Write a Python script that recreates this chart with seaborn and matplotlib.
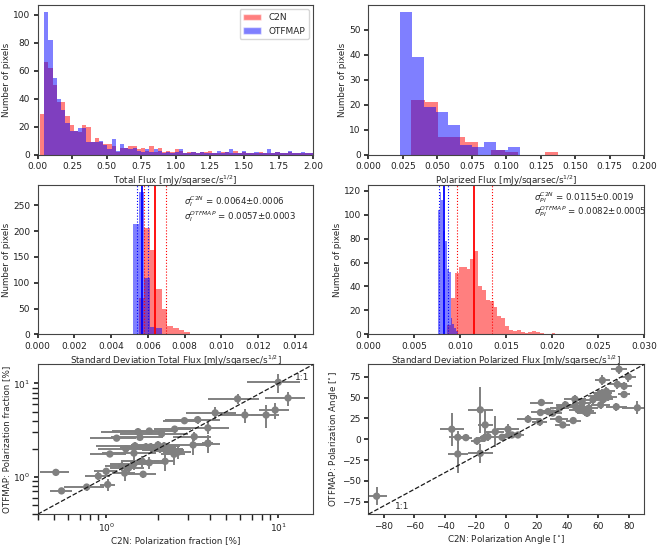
import numpy as np
import pandas as pd
import matplotlib
matplotlib.use("Agg")
import matplotlib.pyplot as plt
from matplotlib.patches import Patch
import seaborn as sns

# ---------------- data ----------------
# Top-left: total flux histograms (counts per bin)
tf_c2n_start, tf_c2n_width = 0.017, 0.0305
tf_c2n_counts = [29, 66, 62, 50, 38, 38, 28, 21, 17, 16, 21, 20, 9, 12, 9, 8, 8, 6, 2, 5,
                 5, 6, 6, 4, 5, 3, 6, 2, 5, 2, 3, 2, 4, 3, 1, 2, 2, 1, 2, 2,
                 3, 1, 1, 2, 2, 1, 3, 1, 2, 1, 1, 1, 2, 1, 1, 1, 2, 1, 1, 2,
                 1, 1, 1, 1, 1]
tf_otf_start, tf_otf_width = 0.017, 0.0305
tf_otf_counts = [0, 102, 82, 55, 40, 32, 23, 17, 17, 19, 19, 9, 9, 9, 10, 7, 4, 11, 3, 8,
                 5, 4, 5, 3, 2, 4, 2, 4, 3, 1, 2, 1, 2, 4, 1, 1, 2, 1, 2, 1,
                 1, 1, 3, 1, 2, 4, 1, 1, 3, 1, 1, 2, 1, 1, 4, 1, 2, 1, 1, 3,
                 1, 1, 2, 1, 1]

# Top-right: polarized flux histograms
pf_c2n_start, pf_c2n_width = 0.031, 0.0097
pf_c2n_counts = [22, 21, 7, 7, 5, 0, 2, 1, 0, 0, 1]
pf_otf_start, pf_otf_width = 0.023, 0.0087
pf_otf_counts = [57, 39, 19, 17, 12, 4, 3, 5, 2, 3]

# Middle-left: std of total flux
si_c2n_start, si_c2n_width = 0.0055, 0.00031
si_c2n_counts = [70, 206, 164, 88, 50, 17, 13, 9, 5, 1]
si_otf_start, si_otf_width = 0.00519, 0.00031
si_otf_counts = [213, 276, 110, 15, 12]
si_c2n_mean, si_c2n_err = 0.0064, 0.0006
si_otf_mean, si_otf_err = 0.0057, 0.0003

# Middle-right: std of polarized flux
sp_c2n_start, sp_c2n_width = 0.00858, 0.00042
sp_c2n_counts = [8, 30, 51, 56, 56, 55, 63, 70, 40, 37, 29, 28, 23, 15, 14, 7, 4, 3, 4, 2,
                 1, 2, 3, 2, 1, 0, 0, 1]
sp_otf_start, sp_otf_width = 0.00753, 0.0002
sp_otf_counts = [104, 119, 112, 86, 78, 55, 52, 14, 9, 5, 3]
sp_c2n_mean, sp_c2n_err = 0.0115, 0.0019
sp_otf_mean, sp_otf_err = 0.0082, 0.0005

# Bottom-left: polarization fraction [%]
pfrac_c2n = [10.0, 11.4, 5.8, 4.3, 6.4, 8.5, 9.6, 3.4, 2.85, 3.9, 3.9, 2.5, 2.1, 1.78, 1.53,
             1.15, 1.57, 3.2, 2.17, 1.47, 1.30, 1.81, 1.94, 1.05, 1.45, 2.22, 2.48, 2.63, 2.2,
             1.78, 1.62, 1.45, 1.23, 1.28, 1.0, 0.90, 1.64, 1.02, 0.77, 0.51, 0.55, 3.25, 3.9,
             2.0, 2.3, 1.7, 2.05, 2.4, 1.35]
pfrac_otf = [10.3, 7.0, 6.85, 4.85, 4.6, 4.6, 5.2, 4.1, 4.0, 3.35, 2.3, 3.25, 2.9, 3.1, 3.05,
             2.6, 2.65, 2.2, 2.15, 2.15, 2.0, 2.1, 2.05, 1.76, 1.8, 1.95, 1.75, 1.85, 1.47,
             1.42, 1.47, 1.38, 1.3, 1.1, 1.15, 1.02, 1.07, 0.83, 0.78, 1.12, 0.71, 2.7, 2.28,
             2.2, 1.9, 2.1, 2.0, 2.0, 1.25]
pfrac_c2n_err = [3.4, 3.0, 1.9, 1.4, 1.8, 1.6, 1.9, 1.2, 0.7, 1.3, 0.3, 0.6, 0.9, 0.7, 0.6,
                 0.35, 0.5, 0.6, 0.5, 0.6, 0.4, 0.6, 0.6, 0.25, 0.5, 0.6, 0.4, 0.5, 0.3,
                 0.4, 0.4, 0.4, 0.25, 0.2, 0.15, 0.15, 0.3, 0.1, 0.2, 0.1, 0.08, 0.8, 0.7,
                 0.6, 0.5, 0.5, 0.6, 0.4, 0.3]
pfrac_otf_err = [2.3, 1.2, 0.8, 0.7, 0.8, 1.3, 1.0, 0.4, 0.3, 0.5, 0.5, 0.3, 0.3, 0.25, 0.3,
                 0.2, 0.2, 0.5, 0.2, 0.2, 0.2, 0.2, 0.2, 0.1, 0.2, 0.2, 0.4, 0.3, 0.3,
                 0.2, 0.2, 0.2, 0.15, 0.2, 0.1, 0.1, 0.1, 0.12, 0.07, 0.05, 0.04, 0.3, 0.4,
                 0.2, 0.2, 0.2, 0.2, 0.2, 0.15]

# Bottom-right: polarization angle [deg]
pa_c2n = [-84.7, -35.6, -31.7, -31.7, -26.4, -17.0, -19.2, -17.0, -13.8, -14.8, -12.0, -7.2,
          1.1, 1.5, 3.7, 7.6, -2.8, 14.2, 21.8, 22.9, 22.3, 27.3, 30.3, 34.3, 36.9, 34.7,
          38.6, 43.7, 44.8, 46.9, 49.1, 51.3, 52.8, 49.6, 53.9, 61.6, 62.7, 59.4, 65.3, 62.7,
          66.6, 71.8, 73.6, 72.5, 76.9, 79.7, 76.9, 85.6, 56.5, 63.5, 45.2]
pa_otf = [-68.4, 12.1, 2.4, -17.7, 2.0, 35.4, -2.0, -16.9, 17.3, 1.2, 3.2, 9.2,
          12.1, 5.2, 5.2, 5.2, 2.4, 24.1, 20.9, 44.2, 32.2, 33.4, 31.4, 24.1, 17.3, 37.4,
          41.4, 22.5, 48.2, 35.4, 39.4, 33.4, 31.4, 44.2, 37.4, 41.4, 55.5, 52.3, 57.5, 70.8,
          51.1, 39.0, 84.1, 66.0, 63.9, 75.1, 53.9, 37.8, 47.4, 48.2, 39.4]
pa_c2n_err = [6.5, 8.0, 6.0, 6.5, 4.0, 8.0, 4.0, 8.0, 5.0, 5.0, 5.0, 6.0,
              7.5, 5.0, 5.0, 4.0, 5.0, 7.0, 5.0, 7.5, 6.0, 6.0, 6.0, 6.0, 5.0, 6.0,
              6.0, 5.0, 7.0, 6.0, 6.0, 6.0, 6.0, 6.0, 6.0, 6.0, 6.0, 6.0, 6.0, 5.0,
              6.0, 7.0, 5.0, 6.0, 5.0, 5.0, 4.0, 10.0, 6.0, 6.0, 6.0]
pa_otf_err = [11.0, 20.0, 8.0, 23.0, 4.0, 28.0, 5.0, 11.0, 18.0, 5.0, 5.0, 19.0,
              6.0, 5.0, 4.0, 4.0, 4.0, 5.0, 5.0, 4.0, 4.0, 4.0, 4.0, 4.0, 4.0, 5.0,
              5.0, 4.0, 5.0, 5.0, 5.0, 5.0, 5.0, 5.0, 5.0, 5.0, 5.0, 5.0, 5.0, 6.0,
              5.0, 5.0, 6.0, 6.0, 5.0, 6.0, 4.0, 8.0, 5.0, 5.0, 5.0]

unit = r"[mJy/sqarsec/s$^{1/2}$]"

# ---------------- style ----------------
sns.set_theme(style="ticks")
plt.rcParams.update({
    "font.family": ["DejaVu Sans"],
    "font.size": 6.3,
    "axes.labelsize": 6.3,
    "xtick.labelsize": 6.5,
    "ytick.labelsize": 6.5,
    "legend.fontsize": 6.5,
    "axes.edgecolor": "#444444",
    "axes.linewidth": 0.8,
    "xtick.color": "#222222",
    "ytick.color": "#222222",
    "xtick.major.size": 3,
    "ytick.major.size": 3,
    "xtick.major.pad": 2.5,
    "ytick.major.pad": 2.5,
    "axes.labelpad": 1.5,
    "mathtext.fontset": "dejavusans",
})

fig, axes = plt.subplots(3, 2, figsize=(6.62, 5.47), dpi=100)
fig.subplots_adjust(left=0.057, right=0.973, bottom=0.060, top=0.991, wspace=0.2, hspace=0.2)


def hist(ax, start, width, counts, color):
    counts = np.asarray(counts, dtype=float)
    edges = start + width * np.arange(len(counts) + 1)
    df = pd.DataFrame({"center": 0.5 * (edges[:-1] + edges[1:]), "count": counts})
    sns.histplot(data=df, x="center", weights="count", bins=edges.tolist(), color=color,
                 alpha=0.5, edgecolor="none", linewidth=0, ax=ax)


# Top-left
ax = axes[0, 0]
hist(ax, tf_c2n_start, tf_c2n_width, tf_c2n_counts, "red")
hist(ax, tf_otf_start, tf_otf_width, tf_otf_counts, "blue")
ax.set_xlim(0, 2.0)
ax.set_xticks(np.arange(0, 2.01, 0.25))
ax.set_xlabel("Total Flux " + unit)
ax.set_ylabel("Number of pixels")
ax.legend(handles=[Patch(facecolor="red", alpha=0.5, label="C2N"),
                   Patch(facecolor="blue", alpha=0.5, label="OTFMAP")],
          loc="upper right", frameon=True)

# Top-right
ax = axes[0, 1]
hist(ax, pf_c2n_start, pf_c2n_width, pf_c2n_counts, "red")
hist(ax, pf_otf_start, pf_otf_width, pf_otf_counts, "blue")
ax.set_xlim(0, 0.2)
ax.set_xticks(np.arange(0, 0.2001, 0.025))
ax.set_xlabel("Polarized Flux " + unit)
ax.set_ylabel("Number of pixels")

# Middle-left
ax = axes[1, 0]
hist(ax, si_c2n_start, si_c2n_width, si_c2n_counts, "red")
hist(ax, si_otf_start, si_otf_width, si_otf_counts, "blue")
for m, e, c in [(si_c2n_mean, si_c2n_err, "red"), (si_otf_mean, si_otf_err, "blue")]:
    ax.axvline(m, color=c, lw=1.3)
    ax.axvline(m - e, color=c, lw=0.8, ls=":")
    ax.axvline(m + e, color=c, lw=0.8, ls=":")
ax.set_xlim(0, 0.015)
ax.set_xticks(np.arange(0, 0.01501, 0.002))
ax.set_xlabel("Standard Deviation Total Flux " + unit)
ax.set_ylabel("Number of pixels")
ax.text(0.53, 0.885, r"$\sigma_I^{C2N}$" + f" = {si_c2n_mean:.4f}\u00b1{si_c2n_err:.4f}",
        transform=ax.transAxes, va="center", fontsize=6.2)
ax.text(0.53, 0.79, r"$\sigma_I^{OTFMAP}$" + f" = {si_otf_mean:.4f}\u00b1{si_otf_err:.4f}",
        transform=ax.transAxes, va="center", fontsize=6.2)

# Middle-right
ax = axes[1, 1]
hist(ax, sp_c2n_start, sp_c2n_width, sp_c2n_counts, "red")
hist(ax, sp_otf_start, sp_otf_width, sp_otf_counts, "blue")
for m, e, c in [(sp_c2n_mean, sp_c2n_err, "red"), (sp_otf_mean, sp_otf_err, "blue")]:
    ax.axvline(m, color=c, lw=1.3)
    ax.axvline(m - e, color=c, lw=0.8, ls=":")
    ax.axvline(m + e, color=c, lw=0.8, ls=":")
ax.set_xlim(0, 0.03)
ax.set_xticks(np.arange(0, 0.03001, 0.005))
ax.set_xlabel("Standard Deviation Polarized Flux " + unit)
ax.set_ylabel("Number of pixels")
ax.text(0.60, 0.915, r"$\sigma_{PI}^{C2N}$" + f" = {sp_c2n_mean:.4f}\u00b1{sp_c2n_err:.4f}",
        transform=ax.transAxes, va="center", fontsize=6.2)
ax.text(0.60, 0.82, r"$\sigma_{PI}^{OTFMAP}$" + f" = {sp_otf_mean:.4f}\u00b1{sp_otf_err:.4f}",
        transform=ax.transAxes, va="center", fontsize=6.2)

# Bottom-left (log-log)
ax = axes[2, 0]
ax.set_xscale("log")
ax.set_yscale("log")
lim = (0.4, 16.0)
ax.errorbar(pfrac_c2n, pfrac_otf, xerr=pfrac_c2n_err, yerr=pfrac_otf_err, fmt="none",
            ecolor="gray", elinewidth=1.4, zorder=2)
sns.scatterplot(x=pfrac_c2n, y=pfrac_otf, color="gray", s=28, edgecolor="none", ax=ax, zorder=3)
ax.plot(lim, lim, "k--", lw=0.9, zorder=4)
ax.set_xlim(lim)
ax.set_ylim(lim)
ax.text(0.985, 0.91, "1:1", transform=ax.transAxes, ha="right", va="center", fontsize=6.5)
ax.set_xlabel("C2N: Polarization fraction [%]")
ax.set_ylabel("OTFMAP: Polarization fraction [%]")

# Bottom-right
ax = axes[2, 1]
alim = (-90, 90)
ax.errorbar(pa_c2n, pa_otf, xerr=pa_c2n_err, yerr=pa_otf_err, fmt="none",
            ecolor="gray", elinewidth=1.4, zorder=2)
sns.scatterplot(x=pa_c2n, y=pa_otf, color="gray", s=28, edgecolor="none", ax=ax, zorder=3)
ax.plot(alim, alim, "k--", lw=0.9, zorder=4)
ax.set_xlim(alim)
ax.set_ylim(alim)
ax.set_xticks(np.arange(-80, 81, 20))
ax.set_yticks(np.arange(-75, 76, 25))
ax.text(0.095, 0.05, "1:1", transform=ax.transAxes, ha="left", va="center", fontsize=6.5)
ax.set_xlabel(r"C2N: Polarization Angle [$^{\circ}$]")
ax.set_ylabel(r"OTFMAP: Polarization Angle [$^{\circ}$]")

fig.savefig("out.png", dpi=100)
